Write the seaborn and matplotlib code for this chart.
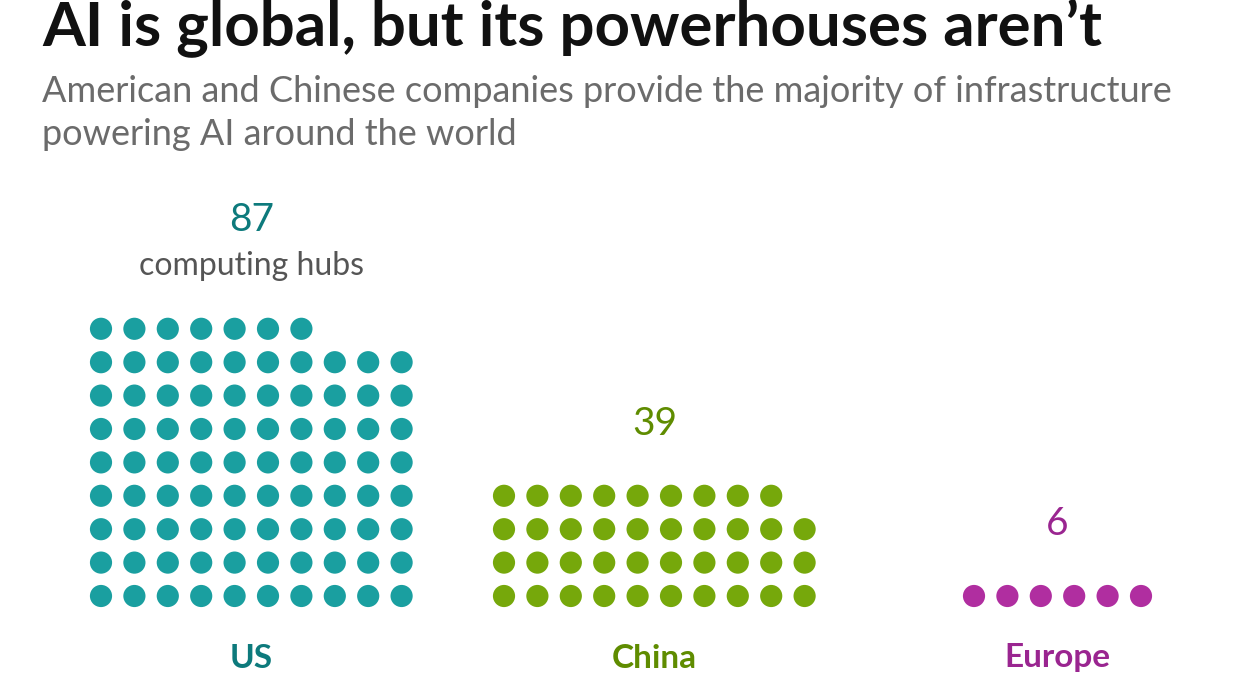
import matplotlib
matplotlib.use("Agg")
import matplotlib.pyplot as plt
import seaborn as sns
import pandas as pd

regions = ["US", "China", "Europe"]
hubs = [87, 39, 6]
dot_colors = ["#1a9fa0", "#76a80b", "#b02ea0"]
text_colors = ["#0d7a7c", "#5f8c00", "#9a2590"]

sns.set_theme(style="white")
plt.rcParams['font.family'] = ['Lato', 'DejaVu Sans']

fig = plt.figure(figsize=(12.45, 7), dpi=100)
ax = fig.add_axes([0, 0, 1, 1])
ax.set_xlim(0, 1245); ax.set_ylim(700, 0)
ax.axis("off")

cols = 10
step = 33.4
left = [101, 504, 974]
bottom = 596
rows = []
for r, n, x0 in zip(regions, hubs, left):
    for i in range(n):
        rows.append(dict(region=r, x=x0 + (i % cols) * step, y=bottom - (i // cols) * step))
df = pd.DataFrame(rows)
sns.scatterplot(data=df, x="x", y="y", hue="region", palette=dict(zip(regions, dot_colors)),
                s=255, edgecolor="none", legend=False, ax=ax)

for r, n, x0, tc in zip(regions, hubs, left, text_colors):
    ncol = min(cols, n)
    cx = x0 + (ncol - 1) * step / 2
    top = bottom - ((n - 1) // cols) * step
    ax.text(cx, 658, r, ha="center", va="center", fontsize=24, fontweight="bold", color=tc)
    ax.text(cx, top - 72 if r != "US" else 220, str(n), ha="center", va="center", fontsize=28, color=tc)
    if r == "US":
        ax.text(cx, 266, "computing hubs", ha="center", va="center", fontsize=23, color="#555555")

fig.text(42/1245, 1 - 28/700, "AI is global, but its powerhouses aren’t", fontsize=44.5, fontweight="bold",
         color="#111111", va="center", ha="left")
fig.text(42/1245, 1 - 113/700, "American and Chinese companies provide the majority of infrastructure\npowering AI around the world",
         fontsize=26, color="#6b6b6b", va="center", ha="left", linespacing=1.35)

fig.savefig("out.png", dpi=100)
